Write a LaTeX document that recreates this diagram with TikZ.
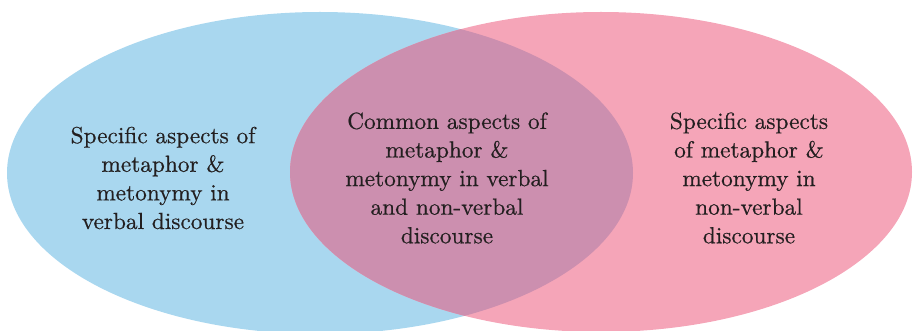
\documentclass[tikz,border=0pt]{standalone}
\usepackage{fontspec}
\newfontfamily\labelfont{lmroman10-regular.otf}[FakeBold=0.5]
\definecolor{setblue}{HTML}{A9D7EF}
\definecolor{setpink}{HTML}{F5A5B8}
\definecolor{setboth}{HTML}{CC8FAF}
\definecolor{inktext}{HTML}{231F20}
\begin{document}
\begin{tikzpicture}[x=1pt,y=-1pt,
  label/.style={align=center,text=inktext,inner sep=0pt,
    font=\labelfont\fontsize{23.3}{28.6}\selectfont}]
  \useasboundingbox (0,0) rectangle (914,331);
  % the two sets
  \fill[setblue] (320,173) ellipse [x radius=313, y radius=161];
  \fill[setpink] (601,172) ellipse [x radius=311, y radius=160];
  % their intersection
  \begin{scope}
    \clip (320,173) ellipse [x radius=313, y radius=161];
    \fill[setboth] (601,172) ellipse [x radius=311, y radius=160];
  \end{scope}
  % labels
  \node[label] (verbal) at (163,178) {Specific aspects of\\metaphor \&\\metonymy in\\verbal discourse};
  \node[label] (common) at (447,178) {Common aspects of\\metaphor \&\\metonymy in verbal\\and non-verbal\\discourse};
  \node[label] (nonverbal) at (749,178) {Specific aspects\\of metaphor \&\\metonymy in\\non-verbal\\discourse};
\end{tikzpicture}
\end{document}
